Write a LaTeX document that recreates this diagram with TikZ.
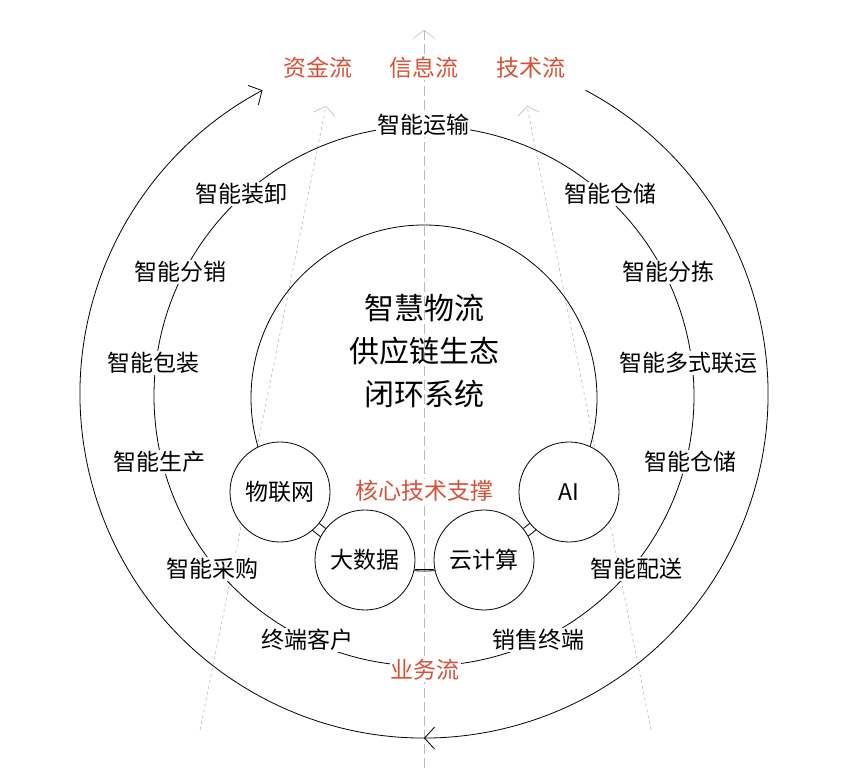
\documentclass[tikz,border=0pt]{standalone}
\usepackage{fontspec}
\setmainfont{Noto Sans CJK SC}
\usetikzlibrary{arrows.meta,decorations.markings}
\definecolor{redt}{HTML}{D65236}
\tikzset{
  lbl/.style={fill=white,inner sep=1pt,font=\fontsize{23}{24}\selectfont},
  rlbl/.style={lbl,text=redt},
  small/.style={circle,draw,fill=white,minimum size=100pt,inner sep=0pt,font=\fontsize{23}{24}\selectfont,line width=0.8pt},
  gline/.style={gray!55,dash pattern=on 3pt off 3pt,line width=0.6pt},
  barb/.style={-{Straight Barb[length=10pt,width=22pt,line width=0.8pt]}}
}
\begin{document}
\begin{tikzpicture}[x=1pt,y=1pt]
\useasboundingbox (0,0) rectangle (853,781);
% gray guide lines
\coordinate (cb) at (424,13);
\coordinate (ct) at (424,751);
\draw[gray!55,dash pattern=on 10pt off 4pt,line width=0.6pt,-{Straight Barb[length=8pt,width=22pt,line width=0.6pt]}] (cb) -- (ct);
\coordinate (lb) at (200,51);
\coordinate (lt) at (326,675);
\draw[gline,-{Straight Barb[length=8pt,width=22pt,line width=0.6pt]}] (lb) -- (lt);
\coordinate (rb) at (651,51);
\coordinate (rt) at (527,675);
\draw[gline,-{Straight Barb[length=8pt,width=22pt,line width=0.6pt]}] (rb) -- (rt);
% outer arc
\coordinate (oc) at (424,387);
\draw[line width=0.8pt,
  postaction={decorate,decoration={markings,mark=at position 0.5 with {\arrow{Straight Barb[length=10pt,width=22pt,line width=0.8pt]}}}},
  barb] ([shift={(62:344)}]oc) arc[start angle=62,end angle=-242,radius=344];
% ring
\coordinate (rc) at (424,385);
\draw[line width=0.8pt] (rc) circle[radius=270];
% inner
\coordinate (ic) at (424,383);
\draw[line width=0.8pt] (ic) circle[radius=173];
% ring labels
\node[lbl] (a1) at (423,656) {智能运输};
\node[lbl] (a2) at (241,587) {智能装卸};
\node[lbl] (a3) at (180,509) {智能分销};
\node[lbl] (a4) at (153,418) {智能包装};
\node[lbl] (a5) at (159,319) {智能生产};
\node[lbl] (a6) at (212,212) {智能采购};
\node[lbl] (a7) at (307,141) {终端客户};
\node[rlbl] (a8) at (425,111) {业务流};
\node[lbl] (a9) at (538,141) {销售终端};
\node[lbl] (a10) at (636,212) {智能配送};
\node[lbl] (a11) at (690,319) {智能仓储};
\node[lbl] (a12) at (688,418) {智能多式联运};
\node[lbl] (a13) at (668,509) {智能分拣};
\node[lbl] (a14) at (610,587) {智能仓储};
% top labels
\node[rlbl] (f1) at (318,713) {资金流};
\node[rlbl] (f2) at (424,713) {信息流};
\node[rlbl] (f3) at (531,713) {技术流};
% center
\node[align=center,font=\fontsize{30}{43}\selectfont] (ctr) at (424,430) {智慧物流\\供应链生态\\闭环系统};
\node[rlbl] (core) at (424,290) {核心技术支撑};
% small circles
\node[small] (iot) at (280,289) {物联网};
\node[small] (bd) at (365,221) {大数据};
\node[small] (cc) at (484,221) {云计算};
\node[small] (ai) at (569,289) {AI};
\draw[line width=0.8pt] (iot) -- (bd);
\draw[line width=0.8pt] ([yshift=-9pt]bd.east) -- ([yshift=-9pt]cc.west);
\draw[line width=0.8pt] (cc) -- (ai);
\end{tikzpicture}
\end{document}
